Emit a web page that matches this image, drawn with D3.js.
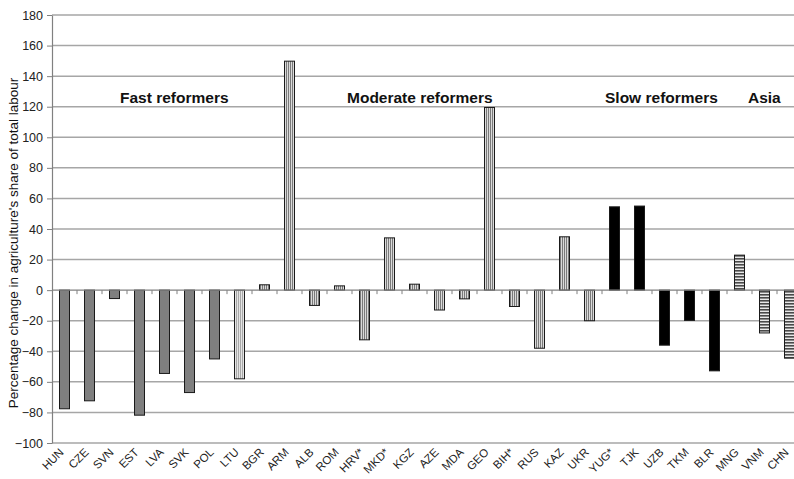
<!DOCTYPE html>
<html><head><meta charset="utf-8">
<script src="https://cdn.jsdelivr.net/npm/d3@7"></script>
<style>body{margin:0;background:#fff}svg{display:block;font-family:"Liberation Sans",Arial,sans-serif}</style>
</head><body><svg id="c" width="794" height="479"></svg>
<script>
const categories = ["HUN","CZE","SVN","EST","LVA","SVK","POL","LTU","BGR","ARM","ALB","ROM","HRV*","MKD*","KGZ","AZE","MDA","GEO","BIH*","RUS","KAZ","UKR","YUG*","TJK","UZB","TKM","BLR","MNG","VNM","CHN"];
const values = [-77.6,-72.4,-5.5,-81.8,-54.5,-67,-45,-58,3.5,149.8,-10,2.8,-32.5,34.2,3.9,-13,-5.7,119.5,-10.7,-38,34.9,-20,54.5,55,-36,-19.8,-52.8,22.9,-28,-44.5];
const groupOf = ["fast","fast","fast","fast","fast","fast","fast","ltu","mod","mod","mod","mod","mod","mod","mod","mod","mod","mod","mod","mod","mod","mod","slow","slow","slow","slow","slow","asia","asia","asia"];
const yTicks = [-100,-80,-60,-40,-20,0,20,40,60,80,100,120,140,160,180];
const groupLabels = ["Fast reformers","Moderate reformers","Slow reformers","Asia"];
const groupLabelAt = [["SVN",0.42],["ROM",0.5],["YUG*",-0.18],["MNG",0.54]];

const svg = d3.select("#c");
const m = {l:52, t:15, r:802, b:443};
const x = d3.scaleBand().domain(categories).range([m.l, m.r]).paddingInner(0.6).paddingOuter(0.3);
const y = d3.scaleLinear().domain([-100,180]).range([m.b, m.t]);

const defs = svg.append("defs");
const pv = defs.append("pattern").attr("id","vs").attr("patternUnits","userSpaceOnUse").attr("width",2).attr("height",4);
pv.append("rect").attr("width",2).attr("height",4).attr("fill","#dadada");
pv.append("rect").attr("width",1).attr("height",4).attr("fill","#7a7a7a");
const pl = defs.append("pattern").attr("id","vl").attr("patternUnits","userSpaceOnUse").attr("width",2).attr("height",4);
pl.append("rect").attr("width",2).attr("height",4).attr("fill","#e4e4e4");
pl.append("rect").attr("width",1).attr("height",4).attr("fill","#a8a8a8");
const ph = defs.append("pattern").attr("id","hs").attr("patternUnits","userSpaceOnUse").attr("width",4).attr("height",3);
ph.append("rect").attr("width",4).attr("height",3).attr("fill","#e8e8e8");
ph.append("rect").attr("width",4).attr("height",1.6).attr("fill","#4a4a4a");

const fills = {fast:"#7f7f7f", ltu:"url(#vl)", mod:"url(#vs)", slow:"#000000", asia:"url(#hs)"};

// gridlines
svg.append("g").selectAll("line").data(yTicks.filter(d=>d!==0)).join("line")
  .attr("x1",m.l).attr("x2",m.r).attr("y1",d=>y(d)).attr("y2",d=>y(d))
  .attr("stroke","#a6a6a6").attr("stroke-width",1.5);

// y axis
const ya = svg.append("g").attr("transform",`translate(${m.l},0)`)
  .call(d3.axisLeft(y).tickValues(yTicks).tickSize(5).tickSizeOuter(0).tickPadding(4));
ya.select(".domain").attr("stroke","#808080").attr("stroke-width",1.2);
ya.selectAll(".tick line").attr("stroke","#808080");
ya.selectAll("text").attr("font-size",12.5).attr("fill","#222");

// bars
svg.append("g").selectAll("rect").data(values).join("rect")
  .attr("x",(d,i)=>x(categories[i]))
  .attr("width",x.bandwidth())
  .attr("y",d=>y(Math.max(0,d)))
  .attr("height",d=>Math.abs(y(d)-y(0)))
  .attr("fill",(d,i)=>fills[groupOf[i]])
  .attr("stroke","#1a1a1a").attr("stroke-width",1);

// zero axis
svg.append("line").attr("x1",m.l).attr("x2",m.r).attr("y1",y(0)).attr("y2",y(0)).attr("stroke","#808080").attr("stroke-width",1.2);
const step = x.step();
svg.append("g").selectAll("line").data(categories.slice(1)).join("line")
  .attr("x1",d=>x(d)-(step-x.bandwidth())/2).attr("x2",d=>x(d)-(step-x.bandwidth())/2)
  .attr("y1",y(0)).attr("y2",y(0)+4).attr("stroke","#808080");

// x labels
svg.append("g").selectAll("text").data(categories).join("text")
  .attr("transform",d=>`translate(${x(d)+x.bandwidth()/2},${453}) rotate(-45)`)
  .attr("text-anchor","end").attr("font-size",11.5).attr("fill","#222").text(d=>d);

// group labels
svg.append("g").selectAll("text").data(groupLabels).join("text")
  .attr("x",(d,i)=>x(groupLabelAt[i][0])+groupLabelAt[i][1]*step)
  .attr("y",103).attr("font-size",15.5).attr("font-weight","bold").attr("fill","#111").text(d=>d);

// y title
svg.append("text").attr("transform",`translate(18,${(m.t+m.b)/2+14}) rotate(-90)`)
  .attr("text-anchor","middle").attr("font-size",13.5).attr("fill","#111")
  .text("Percentage change in agriculture's share of total labour");
</script></body></html>
